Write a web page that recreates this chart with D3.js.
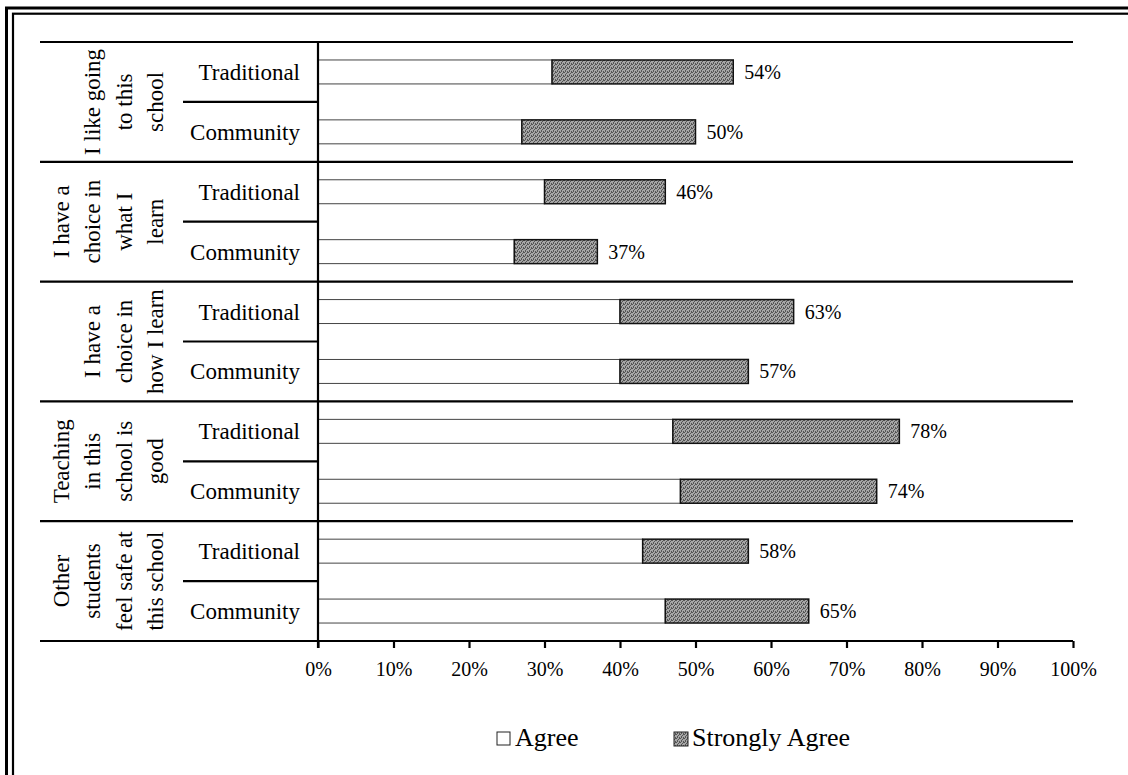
<!DOCTYPE html>
<html>
<head>
<meta charset="utf-8">
<script src="https://cdn.jsdelivr.net/npm/d3@7"></script>
<style>
  body { margin: 0; background: #fff; }
  svg { display: block; }
</style>
</head>
<body>
<svg id="chart" width="1128" height="775"></svg>
<script>
// survey statements, split the way they wrap in the row header
const groupLines = [
  ["I like going", "to this", "school"],
  ["I have a", "choice in", "what I", "learn"],
  ["I have a", "choice in", "how I learn"],
  ["Teaching", "in this", "school is", "good"],
  ["Other", "students", "feel safe at", "this school"]
];
const schoolTypes = ["Traditional", "Community"];

// percentages, rows ordered group by group (Traditional then Community)
const agree         = [31, 27, 30, 26, 40, 40, 47, 48, 43, 46];
const stronglyAgree = [24, 23, 16, 11, 23, 17, 30, 26, 14, 19];
const totalLabels   = ["54%", "50%", "46%", "37%", "63%", "57%", "78%", "74%", "58%", "65%"];

const xTicks = [0, 10, 20, 30, 40, 50, 60, 70, 80, 90, 100];
const legendLabels = ["Agree", "Strongly Agree"];

const svg = d3.select("#chart");
const serif = "'Liberation Serif', 'Times New Roman', serif";

// speckled fill for "strongly agree"
const defs = svg.append("defs");
const pat = defs.append("pattern")
  .attr("id", "stipple")
  .attr("width", 4).attr("height", 4)
  .attr("patternUnits", "userSpaceOnUse");
pat.append("rect").attr("width", 4).attr("height", 4).attr("fill", "#a6a6a6");
[[0, 0], [2, 1], [1, 2], [3, 3], [3, 0], [1, 3]].forEach(p => {
  pat.append("rect").attr("x", p[0]).attr("y", p[1])
    .attr("width", 1).attr("height", 1).attr("fill", "#555");
});

// double frame, runs off the right and bottom edges
svg.append("rect").attr("x", 6.5).attr("y", 8).attr("width", 1200).attr("height", 900)
  .attr("fill", "none").attr("stroke", "#000").attr("stroke-width", 3);
svg.append("rect").attr("x", 13).attr("y", 13.7).attr("width", 1200).attr("height", 900)
  .attr("fill", "none").attr("stroke", "#000").attr("stroke-width", 2.2);

const plotTop = 42, plotBottom = 641, plotLeft = 318, plotRight = 1073;

const x = d3.scaleLinear().domain([0, 100]).range([plotLeft, plotRight]);

const rows = d3.range(agree.length);
const y = d3.scaleBand().domain(rows).range([plotTop, plotBottom])
  .paddingInner(0.6).paddingOuter(0.3);

const gIdx = d3.range(groupLines.length);
const yGroup = d3.scaleBand().domain(gIdx).range([plotTop, plotBottom]);

// group separator lines
svg.selectAll("line.grp")
  .data(gIdx.concat([groupLines.length]))
  .join("line")
  .attr("class", "grp")
  .attr("x1", 40).attr("x2", plotRight)
  .attr("y1", d => d < groupLines.length ? yGroup(d) : plotBottom)
  .attr("y2", d => d < groupLines.length ? yGroup(d) : plotBottom)
  .attr("stroke", "#000").attr("stroke-width", 2.2);

// dividers between Traditional / Community
svg.selectAll("line.sub")
  .data(gIdx)
  .join("line")
  .attr("class", "sub")
  .attr("x1", 183).attr("x2", plotLeft)
  .attr("y1", d => yGroup(d) + yGroup.bandwidth() / 2)
  .attr("y2", d => yGroup(d) + yGroup.bandwidth() / 2)
  .attr("stroke", "#000").attr("stroke-width", 2.2);

// group headers, rotated
gIdx.forEach(i => {
  const lines = groupLines[i];
  const yc = yGroup(i) + yGroup.bandwidth() / 2;
  lines.forEach((t, j) => {
    const bx = 163 - (lines.length - 1 - j) * 31.5;
    svg.append("text")
      .attr("transform", `translate(${bx},${yc}) rotate(-90)`)
      .attr("text-anchor", "middle")
      .attr("font-family", serif)
      .attr("font-size", 23)
      .text(t);
  });
});

// school type labels
svg.selectAll("text.type")
  .data(rows)
  .join("text")
  .attr("class", "type")
  .attr("x", 300)
  .attr("y", d => y(d) + y.bandwidth() / 2 + 8)
  .attr("text-anchor", "end")
  .attr("font-family", serif)
  .attr("font-size", 23)
  .text(d => schoolTypes[d % 2]);

// bars
svg.selectAll("rect.agree")
  .data(rows)
  .join("rect")
  .attr("class", "agree")
  .attr("x", x(0))
  .attr("y", d => y(d))
  .attr("width", d => x(agree[d]) - x(0))
  .attr("height", y.bandwidth())
  .attr("fill", "#fff")
  .attr("stroke", "#444").attr("stroke-width", 1);

svg.selectAll("rect.strong")
  .data(rows)
  .join("rect")
  .attr("class", "strong")
  .attr("x", d => x(agree[d]))
  .attr("y", d => y(d))
  .attr("width", d => x(agree[d] + stronglyAgree[d]) - x(agree[d]))
  .attr("height", y.bandwidth())
  .attr("fill", "url(#stipple)")
  .attr("stroke", "#111").attr("stroke-width", 1.5);

svg.selectAll("text.total")
  .data(rows)
  .join("text")
  .attr("class", "total")
  .attr("x", d => x(agree[d] + stronglyAgree[d]) + 11)
  .attr("y", d => y(d) + y.bandwidth() / 2 + 7)
  .attr("font-family", serif)
  .attr("font-size", 20)
  .text(d => totalLabels[d]);

// value axis
svg.append("line")
  .attr("x1", plotLeft).attr("x2", plotLeft)
  .attr("y1", plotTop).attr("y2", plotBottom + 7)
  .attr("stroke", "#000").attr("stroke-width", 2.2);

const xAxis = svg.append("g")
  .attr("transform", `translate(0,${plotBottom})`)
  .call(d3.axisBottom(x).tickValues(xTicks).tickFormat(d => d + "%").tickSize(7).tickPadding(14));
xAxis.select(".domain").remove();
xAxis.selectAll(".tick line").attr("stroke", "#000").attr("stroke-width", 2.2);
xAxis.selectAll(".tick text")
  .attr("font-family", serif)
  .attr("font-size", 20)
  .attr("fill", "#000");

// legend
const legend = svg.append("g").attr("transform", "translate(0,746)");
const legX = [497, 674];
legendLabels.forEach((t, i) => {
  legend.append("rect")
    .attr("x", legX[i]).attr("y", -14)
    .attr("width", i ? 14 : 13).attr("height", i ? 14 : 13)
    .attr("fill", i ? "url(#stipple)" : "#fff")
    .attr("stroke", "#222").attr("stroke-width", 1);
  legend.append("text")
    .attr("x", legX[i] + 18).attr("y", 0)
    .attr("font-family", serif)
    .attr("font-size", 26)
    .text(t);
});
</script>
</body>
</html>
